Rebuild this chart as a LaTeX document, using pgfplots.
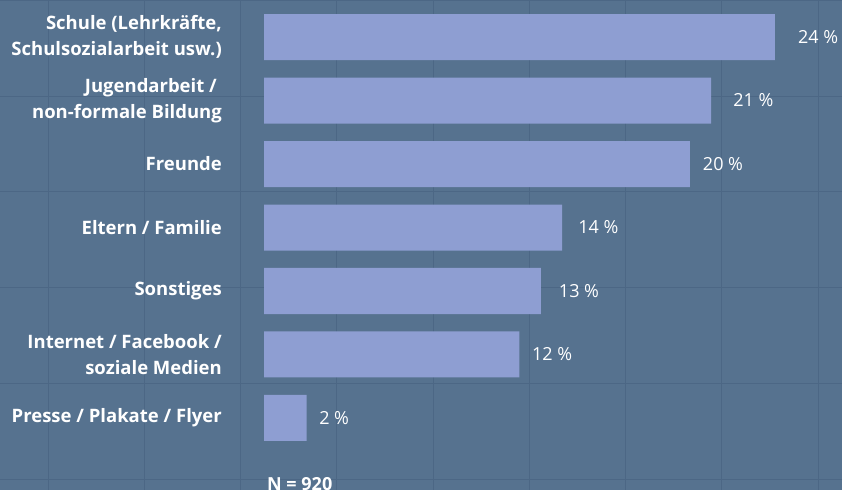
\documentclass[border=0pt]{standalone}
\usepackage{pgfplots}
\usepackage{pgfplotstable}
\pgfplotsset{compat=1.18}
\usepackage{fontspec}
\setmainfont{Open Sans}
\definecolor{bg}{HTML}{56728F}
\definecolor{gridc}{HTML}{4C6785}
\definecolor{barc}{HTML}{8E9ED2}
\pgfplotstableread{
val idx dx
2   0   12.5
12  1   12.5
13  2   18
14  3   16
20  4   13
21  5   22
24  6   23
}\datatable
\begin{document}
\begin{tikzpicture}
\useasboundingbox (0,0) rectangle (842bp,490bp);
\clip (0,0) rectangle (842bp,490bp);
\fill[bg] (0,0) rectangle (842bp,490bp);
\foreach \x in {48,144.25,240.5,336.75,433,529.25,625.5,721.75,818}
  \draw[gridc, line width=1bp] (\x bp,0) -- (\x bp,490bp);
\foreach \y in {489,393,298,202,106,10}
  \draw[gridc, line width=1bp] (0,\y bp) -- (842bp,\y bp);
\begin{axis}[
  at={(264bp,0bp)}, anchor=south west,
  scale only axis, width=578bp, height=490bp,
  xmin=0, xmax=27.15, ymin=-1.134, ymax=6.583,
  axis line style={draw=none}, major tick length=0pt,
  xtick=\empty,
  ytick={0,1,2,3,4,5,6},
  yticklabels={{Presse / Plakate / Flyer},{Internet / Facebook /\\soziale Medien},{Sonstiges},{Eltern / Familie},{Freunde},{Jugendarbeit /\kern5bp\\non-formale Bildung},{Schule (Lehrkräfte,\\Schulsozialarbeit usw.)}},
  yticklabel style={align=right, anchor=east, inner sep=0pt, xshift=-42bp, text=white, font={\fontsize{18.5bp}{26bp}\selectfont\bfseries}},
  xbar, bar width=46bp,
  /pgf/number format/assume math mode=true,
  visualization depends on={\thisrow{dx} \as \dx},
  nodes near coords={\pgfmathprintnumber{\pgfplotspointmeta}~\%},
  nodes near coords style={anchor=west, inner sep=0pt, xshift=\dx bp, text=white, font={\fontsize{18bp}{21bp}\selectfont}},
]
\addplot[fill=barc, draw=none] table[x=val, y=idx] {\datatable};
\end{axis}
\node[anchor=north west, inner sep=0pt, text=white, font={\fontsize{18bp}{22bp}\selectfont\bfseries}] at (267bp,13bp) {N = 920};
\end{tikzpicture}
\end{document}
